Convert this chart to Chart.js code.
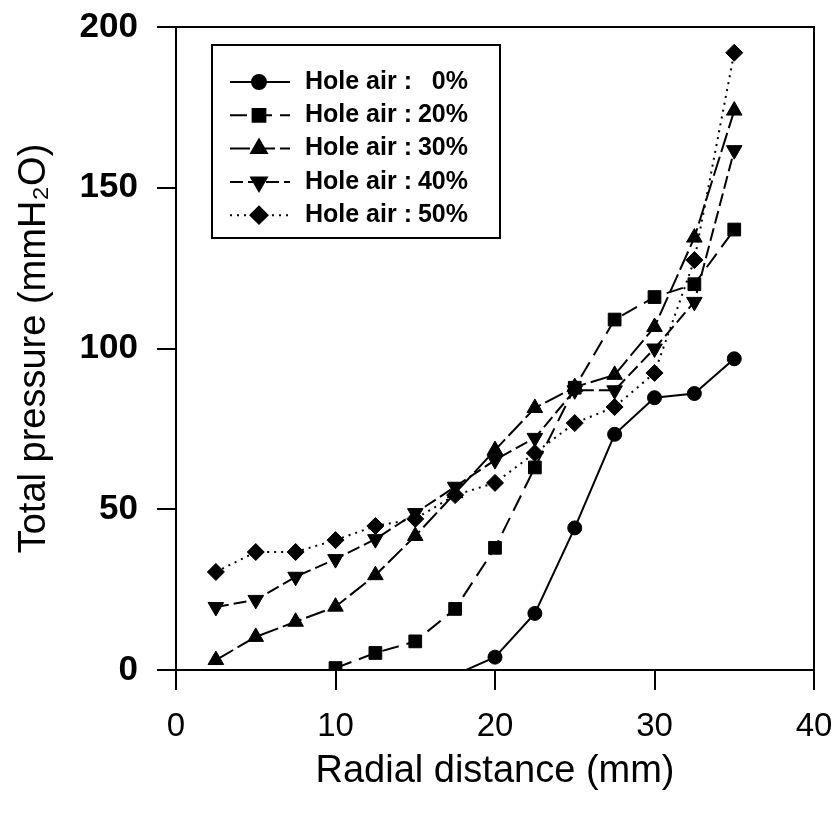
<!DOCTYPE html>
<html>
<head>
<meta charset="utf-8">
<script src="https://cdn.jsdelivr.net/npm/chart.js@4/dist/chart.umd.min.js"></script>
<style>
  html, body { margin: 0; padding: 0; background: #fff; }
  canvas { display: block; }
</style>
</head>
<body>
<canvas id="chart" width="833" height="817"></canvas>
<script>
// radial position of the probe (mm)
var radial = [2.5, 5, 7.5, 10, 12.5, 15, 17.5, 20, 22.5, 25, 27.5, 30, 32.5, 35];

// total pressure (mmH2O) for each hole-air ratio
var air0  = [null, null, null, null, null, null, -1.5, 4, 17.6, 44.2, 73.3, 84.7, 86, 96.8];
var air20 = [null, null, null, 0.6, 5.3, 8.9, 19, 38, 63, 87.8, 109, 116, 120, 137];
var air30 = [3.1, 10.3, 15, 19.7, 29.5, 41.7, 55, 68.4, 81.5, 88, 91.8, 106.7, 134.5, 174];
var air40 = [19.6, 21.8, 29, 34.5, 40.7, 48.8, 57, 65.3, 72.2, 87, 87, 100, 114.5, 161.7];
var air50 = [30.5, 36.7, 36.7, 40.4, 44.8, 47, 54.4, 58.2, 67.5, 76.8, 81.8, 92.4, 127.5, 192];

var holeAir = [0, 20, 30, 40, 50];

var xTicks = [0, 10, 20, 30, 40];
var yTicks = [0, 50, 100, 150, 200];

var FONT = "'Liberation Sans', Arial, sans-serif";

function points(values)
{
    var out = [];
    for (var i = 0; i < radial.length; i++) {
        if (values[i] !== null) out.push({x: radial[i], y: values[i]});
    }
    return out;
}

// hide markers that fall below the axis (line still runs to them)
function radiusFor(r)
{
    return function (ctx) {
        return (ctx.raw && ctx.raw.y < 0) ? 0 : r;
    };
}

function series(values, idx, style, radius, dash, rotation)
{
    return {
        label: 'Hole air : ' + holeAir[idx] + '%',
        data: points(values),
        borderColor: '#000',
        backgroundColor: '#000',
        borderWidth: 2,
        borderDash: dash,
        pointStyle: style,
        pointRotation: rotation || 0,
        pointRadius: radiusFor(radius),
        pointBorderWidth: 1,
        pointBackgroundColor: '#000',
        pointBorderColor: '#000',
        tension: 0,
        fill: false
    };
}

var frame = {
    id: 'frame',
    afterDraw: function (chart) {
        var a = chart.chartArea;
        var ctx = chart.ctx;
        ctx.save();
        ctx.strokeStyle = '#000';
        ctx.lineWidth = 2;
        ctx.strokeRect(a.left, a.top, a.right - a.left, a.bottom - a.top);
        ctx.restore();
    }
};

var legendBox = {
    id: 'legendBox',
    afterDraw: function (chart) {
        var ctx = chart.ctx;
        ctx.save();
        ctx.fillStyle = '#fff';
        ctx.fillRect(212, 45, 288, 193);
        ctx.strokeStyle = '#000';
        ctx.lineWidth = 2;
        ctx.strokeRect(212, 45, 288, 193);
        chart.data.datasets.forEach(function (ds, i) {
            var y = 82 + i * 33.3;
            ctx.setLineDash(ds.borderDash || []);
            ctx.lineWidth = 2;
            ctx.beginPath();
            ctx.moveTo(230, y);
            ctx.lineTo(290, y);
            ctx.stroke();
            ctx.setLineDash([]);
            ctx.fillStyle = '#000';
            Chart.helpers.drawPoint(ctx, {
                pointStyle: ds.pointStyle,
                radius: ds._legendRadius,
                rotation: ds.pointRotation,
                borderWidth: 1
            }, 259, y);
            ctx.font = 'bold 25px ' + FONT;
            ctx.textBaseline = 'middle';
            ctx.textAlign = 'left';
            ctx.fillText('Hole air :', 305, y);
            ctx.textAlign = 'right';
            ctx.fillText(holeAir[i] + '%', 468, y);
        });
        ctx.restore();
    }
};

var datasets = [
    series(air0, 0, 'circle', 7, []),
    series(air20, 1, 'rect', 9, [17, 8]),
    series(air30, 2, 'triangle', 9, [20, 5]),
    series(air40, 3, 'triangle', 9, [13, 5], 180),
    series(air50, 4, 'rectRot', 8.5, [2, 5])
];
var legendRadius = [7, 9, 9, 9, 8.5];
datasets.forEach(function (d, i) { d._legendRadius = legendRadius[i]; });

var ctx = document.getElementById('chart').getContext('2d');
var myChart = new Chart(ctx, {
    type: 'line',
    data: { datasets: datasets },
    plugins: [frame, legendBox],
    options: {
        responsive: false,
        animation: false,
        layout: { padding: { top: 27, right: 19, left: 0, bottom: 0 } },
        plugins: {
            legend: { display: false },
            tooltip: { enabled: false }
        },
        scales: {
            x: {
                type: 'linear',
                min: 0,
                max: 40,
                afterFit: function (scale) {
                    scale.height = 147;
                    scale.paddingLeft = 0;
                    scale.paddingRight = 0;
                },
                afterBuildTicks: function (scale) {
                    scale.ticks = xTicks.map(function (v) { return {value: v}; });
                },
                border: { display: true, color: '#000', width: 2 },
                grid: { drawOnChartArea: false, drawTicks: true, tickLength: 20, color: '#000', lineWidth: 2 },
                ticks: {
                    color: '#000',
                    padding: 17,
                    maxRotation: 0,
                    font: { family: FONT, size: 33 }
                },
                title: {
                    display: true,
                    text: 'Radial distance (mm)',
                    color: '#000',
                    font: { family: FONT, size: 38 },
                    padding: { top: 0, bottom: 23 }
                }
            },
            y: {
                type: 'linear',
                min: 0,
                max: 200,
                afterFit: function (scale) {
                    scale.width = 176;
                    scale.paddingTop = 0;
                    scale.paddingBottom = 0;
                },
                afterBuildTicks: function (scale) {
                    scale.ticks = yTicks.map(function (v) { return {value: v}; });
                },
                border: { display: true, color: '#000', width: 2 },
                grid: { drawOnChartArea: false, drawTicks: true, tickLength: 19, color: '#000', lineWidth: 2 },
                ticks: {
                    color: '#000',
                    padding: 19,
                    font: { family: FONT, size: 35, weight: 'bold' }
                },
                title: {
                    display: true,
                    text: 'Total pressure (mmH₂O)',
                    color: '#000',
                    font: { family: FONT, size: 38 },
                    padding: { top: 12, bottom: 0 }
                }
            }
        }
    }
});
</script>
</body>
</html>
